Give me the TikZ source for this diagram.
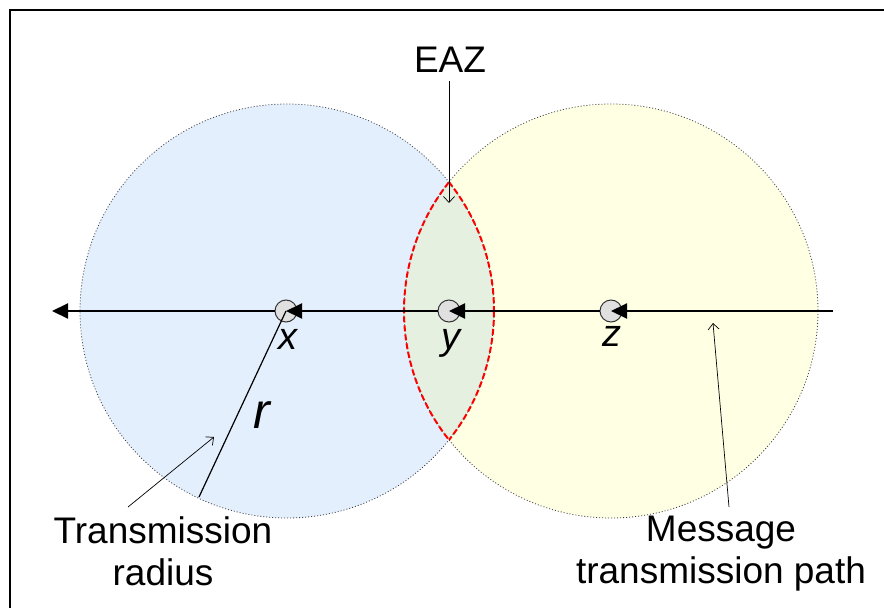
\documentclass[tikz,border=0pt]{standalone}
\usepackage{fontspec}
\setmainfont{Liberation Sans}
\usetikzlibrary{arrows.meta}
\definecolor{zoneblue}{HTML}{E3EFFD}
\definecolor{zoneyellow}{HTML}{FFFFE4}
\definecolor{zonegreen}{HTML}{E6F0E0}
\definecolor{nodegray}{HTML}{E0E0E0}
\tikzset{
  rangeline/.style={draw=black!75, line width=0.8pt, dash pattern=on 1pt off 2pt},
  eazline/.style={draw=red, line width=2pt, dash pattern=on 6pt off 3pt},
  hop/.style={line width=2pt, -{Triangle[length=16pt,width=15pt]}},
  pointer/.style={line width=0.7pt, -{Straight Barb[length=6pt,width=11pt]}},
  station/.style={circle, draw=black!80, line width=1pt, fill=nodegray, minimum size=22pt, inner sep=0pt},
  biglabel/.style={font=\fontsize{37}{42}\selectfont, align=center},
  stname/.style={font=\fontsize{38}{42}\selectfont\itshape, anchor=base, inner sep=0pt},
}
\begin{document}
\begin{tikzpicture}[x=1pt, y=-1pt]
  \useasboundingbox (0,0) rectangle (884,608);
  % centres of the two transmission ranges
  \coordinate (cx) at (287,311);
  \coordinate (cz) at (611,311);
  % filled ranges
  \fill[zoneblue] (cx) circle (207);
  \fill[zoneyellow] (cz) circle (207);
  \begin{scope}
    \clip (cx) circle (207);
    \fill[zonegreen] (cz) circle (207);
  \end{scope}
  % range borders
  \draw[rangeline] (cx) circle (207);
  \draw[rangeline] (cz) circle (207);
  % boundary of the overlap (EAZ)
  \begin{scope}
    \clip (cx) circle (207);
    \draw[eazline] (cz) circle (207);
  \end{scope}
  \begin{scope}
    \clip (cz) circle (207);
    \draw[eazline] (cx) circle (207);
  \end{scope}
  % outer frame
  \draw[line width=2.5pt] (10,640) -- (10,10) -- (900,10);

  % stations
  \node[station] (x) at (286,311) {};
  \node[station] (y) at (449,311) {};
  \node[station] (z) at (611,311) {};
  \coordinate (pathstart) at (833,311);
  \coordinate (pathend) at (52,311);
  \coordinate (rimpt) at (199,497);

  % message path, hop by hop
  \draw[hop] (pathstart) -- (z.center);
  \draw[hop] (z) -- (y.center);
  \draw[hop] (y) -- (x.center);
  \draw[hop] (x) -- (pathend);

  % radius
  \draw[line width=1.2pt] (x.center) -- (rimpt);

  % station names
  \node[stname] (xl) at (288,349) {x};
  \node[stname] (yl) at (451,349) {y};
  \node[stname] (zl) at (612,346) {z};
  \node[font=\fontsize{50}{50}\selectfont\itshape, anchor=base, inner sep=0pt] (rl) at (262,428) {r};

  % annotations
  \node[biglabel, anchor=base, inner sep=0pt] (eaz) at (450,72) {EAZ};
  \coordinate (eaztail) at (449,81);
  \coordinate (eazhead) at (449,203);
  \draw[pointer] (eaztail) -- (eazhead);

  \node[biglabel, anchor=north, inner sep=0pt] (tr) at (163,516) {Transmission\\radius};
  \coordinate (trtail) at (128,507);
  \coordinate (trhead) at (214,437);
  \draw[pointer] (trtail) -- (trhead);

  \node[biglabel, anchor=north, inner sep=0pt] (mt) at (721,516) {Message\\transmission path};
  \coordinate (mttail) at (729,507);
  \coordinate (mthead) at (713,323);
  \draw[pointer] (mttail) -- (mthead);
\end{tikzpicture}
\end{document}
